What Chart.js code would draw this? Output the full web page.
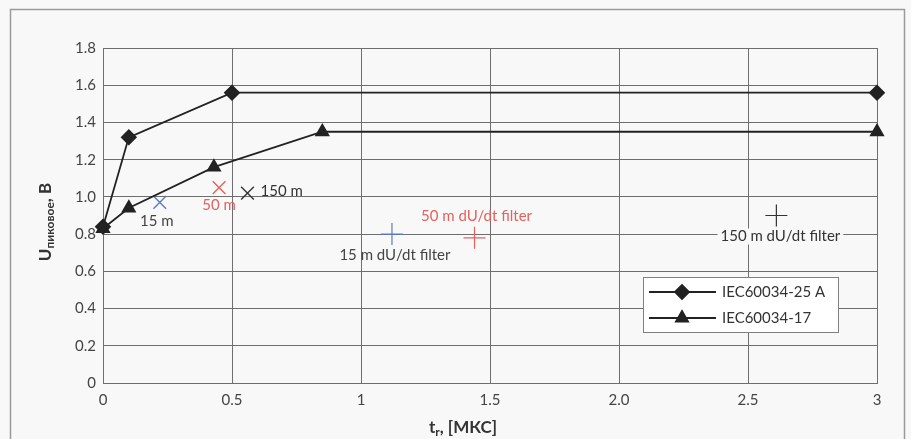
<!DOCTYPE html>
<html>
<head>
<meta charset="utf-8">
<script src="https://cdn.jsdelivr.net/npm/chart.js@4/dist/chart.umd.min.js"></script>
<style>
  html, body { margin: 0; padding: 0; background: #f8f8f8; }
  #wrap { width: 911px; height: 439px; position: relative; }
</style>
</head>
<body>
<div id="wrap"><canvas id="chart" width="911" height="439"></canvas></div>
<script>
// данные
const iec25X = [0, 0.1, 0.5, 3];
const iec25Y = [0.84, 1.32, 1.56, 1.56];
const iec17X = [0, 0.1, 0.43, 0.85, 3];
const iec17Y = [0.83, 0.94, 1.16, 1.35, 1.35];

const cableLabels = ['15 m', '50 m', '150 m'];
const cableX = [0.22, 0.45, 0.56];
const cableY = [0.97, 1.05, 1.02];

const filterLabels = ['15 m dU/dt filter', '50 m dU/dt filter', '150 m dU/dt filter'];
const filterX = [1.12, 1.44, 2.61];
const filterY = [0.80, 0.78, 0.90];

const seriesNames = ['IEC60034-25 A', 'IEC60034-17'];
const xTickLabels = ['0', '0.5', '1', '1.5', '2.0', '2.5', '3'];
const yTickLabels = ['0', '0.2', '0.4', '0.6', '0.8', '1.0', '1.2', '1.4', '1.6', '1.8'];

const markColors = ['#5b7cc6', '#e2625e', '#333333'];
const textColors = ['#444444', '#e2625e', '#333333'];
const BG = '#f8f8f8';
const FONT = 'Lato, "Open Sans", sans-serif';

const toPts = (xs, ys) => xs.map((x, i) => ({ x, y: ys[i] }));

// подписи у маркеров: смещение в пикселях и выравнивание
const cableOffsets = [[-3, 19, 'center'], [0, 18, 'center'], [13, -2, 'left']];
const filterOffsets = [[3, 21, 'center'], [2, -22, 'center'], [4, 21, 'center']];

const frame = {
  id: 'frame',
  beforeDraw(chart) {
    const c = chart.ctx;
    c.save();
    c.fillStyle = BG;
    c.fillRect(0, 0, chart.width, chart.height);
    c.strokeStyle = '#9a9a9a';
    c.lineWidth = 1.5;
    c.strokeRect(10.5, 9.5, 894, 440);
    c.restore();
  }
};

const labels = {
  id: 'labels',
  afterDatasetsDraw(chart) {
    const c = chart.ctx;
    c.save();
    c.font = '15px ' + FONT;
    c.textBaseline = 'middle';
    const draw = (dsIndex, texts, offs) => {
      const meta = chart.getDatasetMeta(dsIndex);
      meta.data.forEach((pt, i) => {
        const [dx, dy, align] = offs[i];
        c.textAlign = align;
        const tx = pt.x + dx, ty = pt.y + dy;
        if (dsIndex === 3 && i === 2) {
          const w = c.measureText(texts[i]).width;
          c.fillStyle = BG;
          c.fillRect(tx - w / 2 - 3, ty - 8, w + 6, 16);
        }
        c.fillStyle = textColors[i];
        c.fillText(texts[i], tx, ty);
      });
    };
    draw(2, cableLabels, cableOffsets);
    draw(3, filterLabels, filterOffsets);
    c.restore();
  }
};

const legendBox = {
  id: 'legendBox',
  afterDraw(chart) {
    const c = chart.ctx;
    c.save();
    c.fillStyle = '#ffffff';
    c.fillRect(643, 277, 195, 55);
    c.strokeStyle = '#808080';
    c.lineWidth = 1;
    c.strokeRect(643.5, 277.5, 195, 55);
    const rows = [292, 318];
    rows.forEach((y, i) => {
      c.strokeStyle = '#222';
      c.lineWidth = 1.8;
      c.beginPath();
      c.moveTo(649, y);
      c.lineTo(716, y);
      c.stroke();
      Chart.helpers.drawPoint(c, {
        pointStyle: i === 0 ? 'rectRot' : 'triangle',
        radius: 7, rotation: 0, borderWidth: 1
      }, 682, y);
      c.fillStyle = '#222';
      c.fill();
      c.fillStyle = '#333';
      c.font = '15px ' + FONT;
      c.textAlign = 'left';
      c.textBaseline = 'middle';
      c.fillText(seriesNames[i], 722, y);
    });
    c.restore();
  }
};

const axisTitles = {
  id: 'axisTitles',
  afterDraw(chart) {
    const c = chart.ctx;
    c.save();
    c.fillStyle = '#333';
    c.textBaseline = 'alphabetic';
    c.textAlign = 'left';
    const big = 'bold 17px ' + FONT, small = 'bold 12px ' + FONT;

    // ось Y: U с индексом "пиковое"
    c.save();
    c.translate(51, 222);
    c.rotate(-Math.PI / 2);
    c.font = big; const w1 = c.measureText('U').width;
    c.font = small; const w2 = c.measureText('пиковое').width;
    c.font = big; const w3 = c.measureText(', В').width;
    let x = -(w1 + w2 + w3) / 2;
    c.font = big; c.fillText('U', x, 0); x += w1;
    c.font = small; c.fillText('пиковое', x, 3); x += w2;
    c.font = big; c.fillText(', В', x, 0);
    c.restore();

    // ось X: t с индексом r
    c.font = big; const a = c.measureText('t').width;
    c.font = small; const b = c.measureText('r').width;
    c.font = big; const d = c.measureText(', [МКС]').width;
    x = 463 - (a + b + d) / 2;
    const y = 433;
    c.font = big; c.fillText('t', x, y); x += a;
    c.font = small; c.fillText('r', x, y + 3); x += b;
    c.font = big; c.fillText(', [МКС]', x, y);
    c.restore();
  }
};

new Chart(document.getElementById('chart'), {
  type: 'scatter',
  data: {
    datasets: [
      {
        label: seriesNames[0],
        data: toPts(iec25X, iec25Y),
        showLine: true,
        borderColor: '#222',
        borderWidth: 1.8,
        pointStyle: 'rectRot',
        pointRadius: 7,
        pointBackgroundColor: '#222',
        pointBorderColor: '#222',
        clip: false
      },
      {
        label: seriesNames[1],
        data: toPts(iec17X, iec17Y),
        showLine: true,
        borderColor: '#222',
        borderWidth: 1.8,
        pointStyle: 'triangle',
        pointRadius: 7,
        pointBackgroundColor: '#222',
        pointBorderColor: '#222',
        clip: false
      },
      {
        label: 'cable',
        data: toPts(cableX, cableY),
        showLine: false,
        pointStyle: 'crossRot',
        pointRadius: 9,
        pointBorderWidth: 1.4,
        pointBorderColor: markColors,
        clip: false
      },
      {
        label: 'filter',
        data: toPts(filterX, filterY),
        showLine: false,
        pointStyle: 'cross',
        pointRadius: 11,
        pointBorderWidth: 1.2,
        pointBorderColor: markColors,
        clip: false
      }
    ]
  },
  options: {
    responsive: false,
    animation: false,
    layout: { padding: { left: 0, top: 48, right: 34, bottom: 0 } },
    plugins: { legend: { display: false }, tooltip: { enabled: false } },
    scales: {
      x: {
        type: 'linear', min: 0, max: 3,
        afterFit(s) { s.height = 56; },
        afterBuildTicks(s) { s.ticks = xTickLabels.map((t, i) => ({ value: i * 0.5 })); },
        ticks: {
          callback: (v, i) => xTickLabels[i],
          color: '#444', font: { family: FONT, size: 15 }, padding: 8, maxRotation: 0
        },
        grid: { color: '#6e6e6e', lineWidth: 1, drawTicks: false },
        border: { color: '#6e6e6e', width: 1 }
      },
      y: {
        min: 0, max: 1.8,
        afterFit(s) { s.width = 103; },
        afterBuildTicks(s) { s.ticks = yTickLabels.map((t, i) => ({ value: i * 0.2 })); },
        ticks: {
          callback: (v, i) => yTickLabels[i],
          color: '#444', font: { family: FONT, size: 15 }, padding: 7
        },
        grid: { color: '#6e6e6e', lineWidth: 1, drawTicks: false },
        border: { color: '#6e6e6e', width: 1 }
      }
    }
  },
  plugins: [frame, labels, legendBox, axisTitles]
});
</script>
</body>
</html>
